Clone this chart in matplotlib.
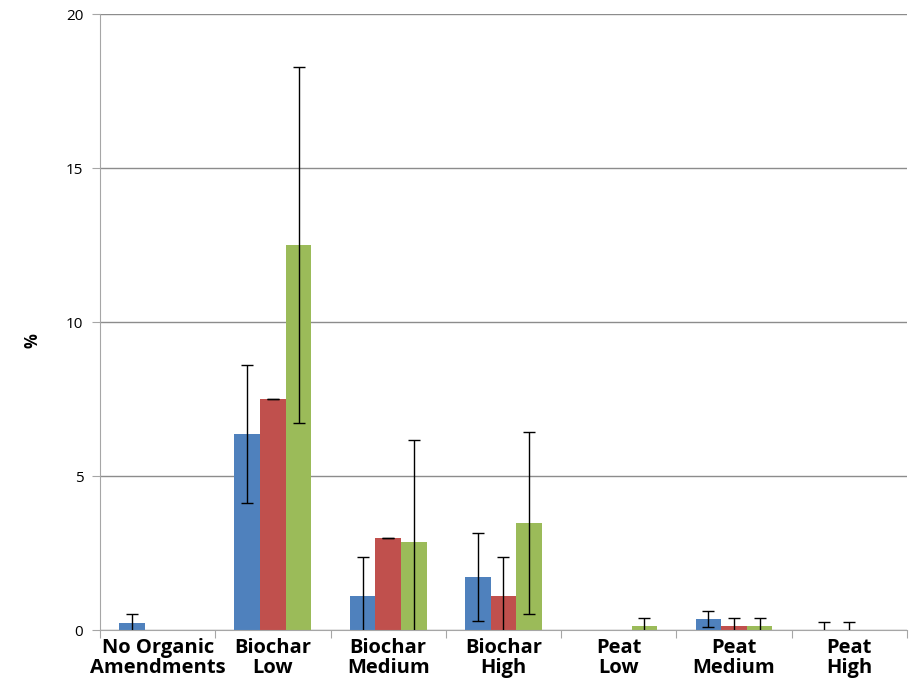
import numpy as np
import matplotlib.pyplot as plt

# Treatments and the three series (percent, with error half-widths)
categories = ['No Organic\nAmendments', 'Biochar\nLow', 'Biochar\nMedium', 'Biochar\nHigh',
              'Peat\nLow', 'Peat\nMedium', 'Peat\nHigh']
blue_vals = [0.24, 6.36, 1.10, 1.72, 0.0, 0.36, 0.0]
blue_err = [0.29, 2.25, 1.27, 1.44, 0.0, 0.25, 0.25]
red_vals = [0.0, 7.49, 3.00, 1.09, 0.0, 0.12, 0.0]
red_err = [0.0, 0.0, 0.0, 1.28, 0.0, 0.26, 0.25]
green_vals = [0.0, 12.50, 2.85, 3.47, 0.12, 0.12, 0.0]
green_err = [0.0, 5.77, 3.33, 2.95, 0.26, 0.26, 0.0]

colors = ['#4F81BD', '#C0504D', '#9BBB59']
series = [(blue_vals, blue_err), (red_vals, red_err), (green_vals, green_err)]

plt.rcParams['font.family'] = ['Open Sans', 'DejaVu Sans']

fig = plt.figure(figsize=(9.12, 6.82), dpi=100)
ax = fig.add_axes([100/912, 1 - 630/682, 807/912, 616/682])

x = np.arange(len(categories))
width = 1.0 / 4.5
for i, ((vals, err), c) in enumerate(zip(series, colors)):
    pos = x + (i - 1) * width
    ax.bar(pos, vals, width, color=c, zorder=2)
    vals = np.array(vals)
    err = np.array(err)
    # error bars wherever there is a spread or a bar to cap
    show = (err > 0) | (vals > 0)
    ax.errorbar(pos[show], vals[show], yerr=err[show], fmt='none', ecolor='black',
                elinewidth=1, capsize=4, capthick=1, zorder=3)

ax.set_xlim(-0.5, len(categories) - 0.5)
ax.set_ylim(0, 20)
ax.set_yticks([0, 5, 10, 15, 20])
ax.yaxis.grid(True, color='#8c8c8c', lw=1)
ax.set_axisbelow(True)

for s in ['top', 'right']:
    ax.spines[s].set_visible(False)
for s in ['left', 'bottom']:
    ax.spines[s].set_color('#a6a6a6')

ax.set_xticks(np.arange(len(categories) + 1) - 0.5, minor=False)
ax.set_xticklabels([])
ax.set_xticks(x, minor=True)
ax.set_xticklabels(categories, minor=True, fontsize=14.5, fontweight='bold', linespacing=1.0)
ax.tick_params(axis='x', which='major', length=6, color='#a6a6a6')
ax.tick_params(axis='x', which='minor', length=0, pad=6)
ax.tick_params(axis='y', length=6, color='#a6a6a6', labelsize=11, pad=6)

ax.set_ylabel('%', fontsize=12, fontweight='bold')
ax.yaxis.set_label_coords(-0.072, 0.47)

fig.savefig('out.png', dpi=100)
